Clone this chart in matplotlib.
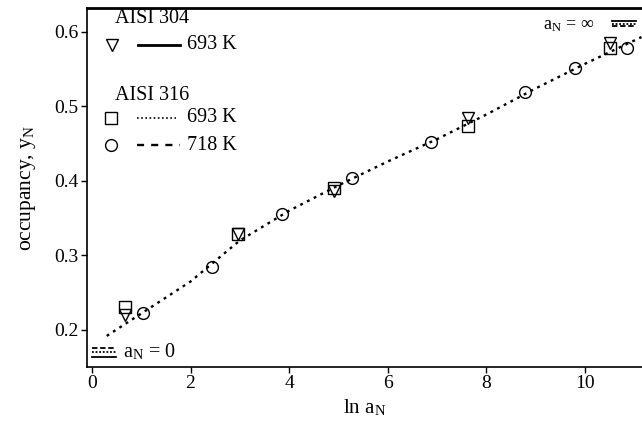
"""Surface occupancy y_N against ln a_N for AISI 304 and AISI 316."""

import matplotlib

matplotlib.use("Agg")
import matplotlib.pyplot as plt
from matplotlib.lines import Line2D

plt.rcParams["font.family"] = ["Liberation Serif", "DejaVu Serif"]
plt.rcParams["mathtext.fontset"] = "stix"

# AISI 304, 693 K
x_304_693 = [0.67, 2.96, 4.91, 7.63, 10.51]
y_304_693 = [0.220, 0.329, 0.387, 0.485, 0.585]

# AISI 316, 693 K
x_316_693 = [0.67, 2.96, 4.91, 7.63, 10.51]
y_316_693 = [0.231, 0.329, 0.391, 0.474, 0.579]

# AISI 316, 718 K
x_316_718 = [1.03, 2.43, 3.85, 5.27, 6.88, 8.78, 9.80, 10.85]
y_316_718 = [0.223, 0.285, 0.356, 0.404, 0.452, 0.519, 0.552, 0.579]

# fitted isotherm (curves for all three sets lie on top of each other)
x_fit = [0.3, 1.0, 2.0, 3.0, 4.0, 5.0, 6.0, 7.0, 8.0, 9.0, 10.0, 11.15]
y_fit = [0.192, 0.222, 0.265, 0.320, 0.360, 0.394, 0.426, 0.456, 0.489, 0.524, 0.557, 0.593]

x_ticks = [0, 2, 4, 6, 8, 10]
y_ticks = [0.2, 0.3, 0.4, 0.5, 0.6]

fig = plt.figure(figsize=(6.42, 4.28), dpi=100)
ax = fig.add_axes([0.1355, 0.1425, 0.8645, 0.8388])

ax.plot(x_fit, y_fit, color="black", lw=1.7, ls=(0, (1.2, 2.0)), zorder=2)

mk = dict(ls="none", mfc="none", mec="black", mew=1.0, ms=8.5, zorder=3)
ax.plot(x_316_693, y_316_693, marker="s", **mk)
ax.plot(x_304_693, y_304_693, marker="v", **mk)
ax.plot(x_316_718, y_316_718, marker="o", **mk)

ax.set_xlim(-0.10, 11.16)
ax.set_ylim(0.1503, 0.632)
ax.set_xticks(x_ticks)
ax.set_yticks(y_ticks)
ax.set_yticklabels([f"{v:.1f}" for v in y_ticks])
ax.tick_params(direction="out", length=4, width=1, labelsize=14, colors="black", pad=2)
ax.spines["right"].set_visible(False)
for side in ("left", "bottom"):
    ax.spines[side].set_linewidth(1.2)
ax.spines["top"].set_linewidth(2.0)

ax.set_xlabel(r"ln a$_\mathregular{N}$", fontsize=15, labelpad=4)
ax.set_ylabel(r"occupancy, y$_\mathregular{N}$", fontsize=15.5, labelpad=12)

# hand-built key in the upper left
tr = ax.transAxes
fs = 14.5
ax.text(0.05, 0.972, "AISI 304", transform=tr, fontsize=fs, va="center")
ax.add_line(Line2D([0.045], [0.897], marker="v", transform=tr, **mk))
ax.add_line(Line2D([0.092, 0.168], [0.897, 0.897], color="black", lw=2.0, transform=tr))
ax.text(0.180, 0.897, "693 K", transform=tr, fontsize=fs, va="center")

ax.text(0.05, 0.755, "AISI 316", transform=tr, fontsize=fs, va="center")
ax.add_line(Line2D([0.043], [0.694], marker="s", transform=tr, **mk))
ax.add_line(Line2D([0.090, 0.160], [0.694, 0.694], color="black", lw=1.2,
                   ls=(0, (1, 1.5)), transform=tr))
ax.text(0.180, 0.694, "693 K", transform=tr, fontsize=fs, va="center")
ax.add_line(Line2D([0.043], [0.618], marker="o", transform=tr, **mk))
ax.add_line(Line2D([0.090, 0.168], [0.618, 0.618], color="black", lw=1.7,
                   ls=(0, (3, 3)), transform=tr))
ax.text(0.180, 0.618, "718 K", transform=tr, fontsize=fs, va="center")

# limiting values of the three curves
ax.text(0.822, 0.950, r"a$_\mathregular{N}$ = ∞", transform=tr, fontsize=13, va="center")
for yy, style in [(0.963, "-"), (0.956, (0, (1, 1))), (0.949, (0, (3, 1.5)))]:
    ax.add_line(Line2D([0.946, 0.989], [yy, yy], color="black", lw=1.3, ls=style, transform=tr))

ax.text(0.064, 0.042, r"a$_\mathregular{N}$ = 0", transform=tr, fontsize=14.5, va="center")
for yy, style in [(0.053, (0, (3, 1.5))), (0.042, (0, (1, 1))), (0.028, "-")]:
    ax.add_line(Line2D([0.009, 0.052], [yy, yy], color="black", lw=1.3, ls=style, transform=tr))

fig.savefig("out.png", dpi=100)
